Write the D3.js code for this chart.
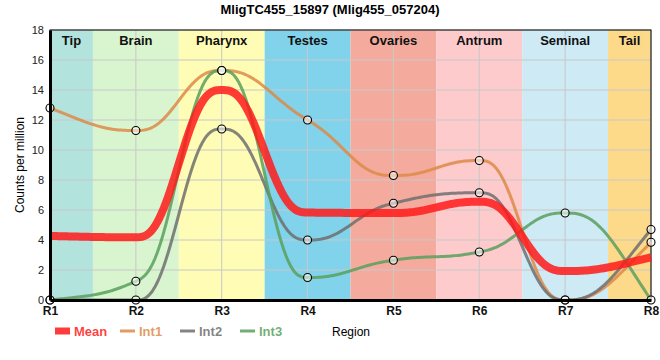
<!DOCTYPE html>
<html lang="en">
<head>
<meta charset="UTF-8">
<script src="https://cdn.jsdelivr.net/npm/d3@7"></script>
<style>
  body { margin: 0; background: #fff; }
  * { font-family: "Liberation Sans", Arial, sans-serif; }
</style>
</head>
<body>
<div id="chart"></div>
<script>
// data
var regions = ["R1", "R2", "R3", "R4", "R5", "R6", "R7", "R8"];
var bandNames = ["Tip", "Brain", "Pharynx", "Testes", "Ovaries", "Antrum", "Seminal", "Tail"];
var bandColors = ["#b3e3dd", "#d8f5cf", "#fffdb5", "#80d3ea", "#f4ab9e", "#fdcbcc", "#cdeaf5", "#fdd98a"];
var meanVals = [4.27, 4.18, 14.0, 5.83, 5.8, 6.55, 1.93, 2.85];
var int1Vals = [12.8, 11.3, 15.3, 12.0, 8.3, 9.3, 0, 3.85];
var int2Vals = [0, 0, 11.4, 4.0, 6.45, 7.15, 0, 4.7];
var int3Vals = [0, 1.25, 15.3, 1.5, 2.65, 3.2, 5.8, 0];
var yTicks = [0, 2, 4, 6, 8, 10, 12, 14, 16, 18];

var series = [
  {name: "Mean", vals: meanVals, color: "#ff1a1a", width: 8, dots: false},
  {name: "Int1", vals: int1Vals, color: "#dd8a48", width: 3, dots: true},
  {name: "Int2", vals: int2Vals, color: "#6e6e6e", width: 3, dots: true},
  {name: "Int3", vals: int3Vals, color: "#5a9f5e", width: 3, dots: true}
];

var W = 660, H = 360;
var mLeft = 50, mRight = 651, mTop = 30, mBottom = 300;

var svg = d3.select("#chart").append("svg")
  .attr("width", W).attr("height", H);

var x = d3.scalePoint().domain(regions).range([mLeft, mRight]);
var y = d3.scaleLinear().domain([0, 18]).range([mBottom, mTop]);
var step = x.step();

function bandL(d) { return Math.max(mLeft, x(d) - step / 2); }
function bandR(d) { return Math.min(mRight, x(d) + step / 2); }

// background bands
svg.selectAll(".band")
  .data(regions)
  .enter().append("rect")
  .attr("x", bandL)
  .attr("y", mTop)
  .attr("width", function(d) { return bandR(d) - bandL(d); })
  .attr("height", mBottom - mTop)
  .attr("fill", function(d, i) { return bandColors[i]; });

// grid
svg.append("g")
  .selectAll("line")
  .data(yTicks)
  .enter().append("line")
  .attr("x1", mLeft).attr("x2", mRight)
  .attr("y1", function(d) { return y(d); }).attr("y2", function(d) { return y(d); })
  .attr("stroke", "#c8c8c8").attr("stroke-width", 1);

svg.append("g")
  .selectAll("line")
  .data(regions)
  .enter().append("line")
  .attr("x1", function(d) { return x(d); }).attr("x2", function(d) { return x(d); })
  .attr("y1", mTop).attr("y2", mBottom)
  .attr("stroke", "#c8c8c8").attr("stroke-width", 1);

// band labels
svg.selectAll(".blab")
  .data(regions)
  .enter().append("text")
  .attr("x", function(d) { return (bandL(d) + bandR(d)) / 2; })
  .attr("y", 45)
  .attr("text-anchor", "middle")
  .attr("font-size", 13)
  .attr("font-weight", "bold")
  .attr("fill", "#111")
  .text(function(d, i) { return bandNames[i]; });

// plot frame
svg.append("rect")
  .attr("x", mLeft).attr("y", mTop)
  .attr("width", mRight - mLeft).attr("height", mBottom - mTop)
  .attr("fill", "none").attr("stroke", "#000").attr("stroke-width", 1);

// monotone tangents (same rule as d3.curveMonotoneX), then quintic Hermite pieces
function tangents(v) {
  var n = v.length, m = new Array(n);
  var s = [];
  for (var i = 0; i < n - 1; i++) s.push(v[i + 1] - v[i]);
  for (var i = 1; i < n - 1; i++) {
    var s0 = s[i - 1], s1 = s[i], p = (s0 + s1) / 2;
    m[i] = (Math.sign(s0) + Math.sign(s1)) * Math.min(Math.abs(s0), Math.abs(s1), 0.5 * Math.abs(p)) || 0;
  }
  m[0] = (3 * s[0] - m[1]) / 2;
  m[n - 1] = (3 * s[n - 2] - m[n - 2]) / 2;
  return m;
}

function smoothPoints(v) {
  var m = tangents(v), pts = [];
  for (var i = 0; i < v.length - 1; i++) {
    for (var k = 0; k <= 40; k++) {
      if (i > 0 && k === 0) continue;
      var t = k / 40, t3 = t * t * t, t4 = t3 * t, t5 = t4 * t;
      var h0 = 1 - 10 * t3 + 15 * t4 - 6 * t5;
      var h1 = t - 6 * t3 + 8 * t4 - 3 * t5;
      var h2 = -4 * t3 + 7 * t4 - 3 * t5;
      var h3 = 10 * t3 - 15 * t4 + 6 * t5;
      var val = h0 * v[i] + h1 * m[i] + h2 * m[i + 1] + h3 * v[i + 1];
      pts.push([x(regions[i]) + t * step, y(val)]);
    }
  }
  return pts;
}

var line = d3.line();

// Int series first, Mean on top
var order = [series[1], series[2], series[3], series[0]];
order.forEach(function(s) {
  svg.append("path")
    .attr("d", line(smoothPoints(s.vals)))
    .attr("fill", "none")
    .attr("stroke", s.color)
    .attr("stroke-width", s.width)
    .attr("stroke-opacity", 0.85)
    .attr("stroke-linejoin", "round");
});

series.filter(function(s) { return s.dots; }).forEach(function(s) {
  svg.append("g")
    .selectAll("circle")
    .data(s.vals)
    .enter().append("circle")
    .attr("cx", function(d, i) { return x(regions[i]); })
    .attr("cy", function(d) { return y(d); })
    .attr("r", 4)
    .attr("fill", "#fff").attr("fill-opacity", 0.55)
    .attr("stroke", "#000").attr("stroke-width", 1.1);
});

// axes
var yAxis = svg.append("g")
  .attr("transform", "translate(" + mLeft + ",0)")
  .call(d3.axisLeft(y).tickValues(yTicks).tickSize(0).tickPadding(6));
yAxis.select(".domain").attr("stroke-width", 3);
yAxis.selectAll("text").attr("font-size", 11).attr("fill", "#222");

var xAxis = svg.append("g")
  .attr("transform", "translate(0," + mBottom + ")")
  .call(d3.axisBottom(x).tickSize(0).tickPadding(6).tickSizeOuter(0));
xAxis.select(".domain").attr("stroke-width", 3);
xAxis.selectAll("text").attr("font-size", 12).attr("font-weight", "bold").attr("fill", "#111");

// titles
svg.append("text")
  .attr("x", 330).attr("y", 14)
  .attr("text-anchor", "middle")
  .attr("font-size", 13).attr("font-weight", "bold")
  .text("MligTC455_15897 (Mlig455_057204)");

svg.append("text")
  .attr("transform", "translate(24," + ((mTop + mBottom) / 2) + ") rotate(-90)")
  .attr("text-anchor", "middle")
  .attr("font-size", 12)
  .text("Counts per million");

svg.append("text")
  .attr("x", 332).attr("y", 336)
  .attr("font-size", 12)
  .text("Region");

// legend
var legendX = [55, 120, 180, 240];
var leg = svg.append("g").selectAll("g")
  .data(series)
  .enter().append("g")
  .attr("transform", function(d, i) { return "translate(" + legendX[i] + ",331)"; });

leg.append("line")
  .attr("x1", 0).attr("x2", 15)
  .attr("stroke", function(d) { return d.color; })
  .attr("stroke-width", function(d) { return d.dots ? 3 : 7; })
  .attr("stroke-opacity", 0.85);

leg.append("text")
  .attr("x", 19).attr("y", 5)
  .attr("font-size", 13)
  .attr("font-weight", "bold")
  .attr("fill", function(d) { return d.color; })
  .attr("fill-opacity", 0.85)
  .text(function(d) { return d.name; });
</script>
</body>
</html>
